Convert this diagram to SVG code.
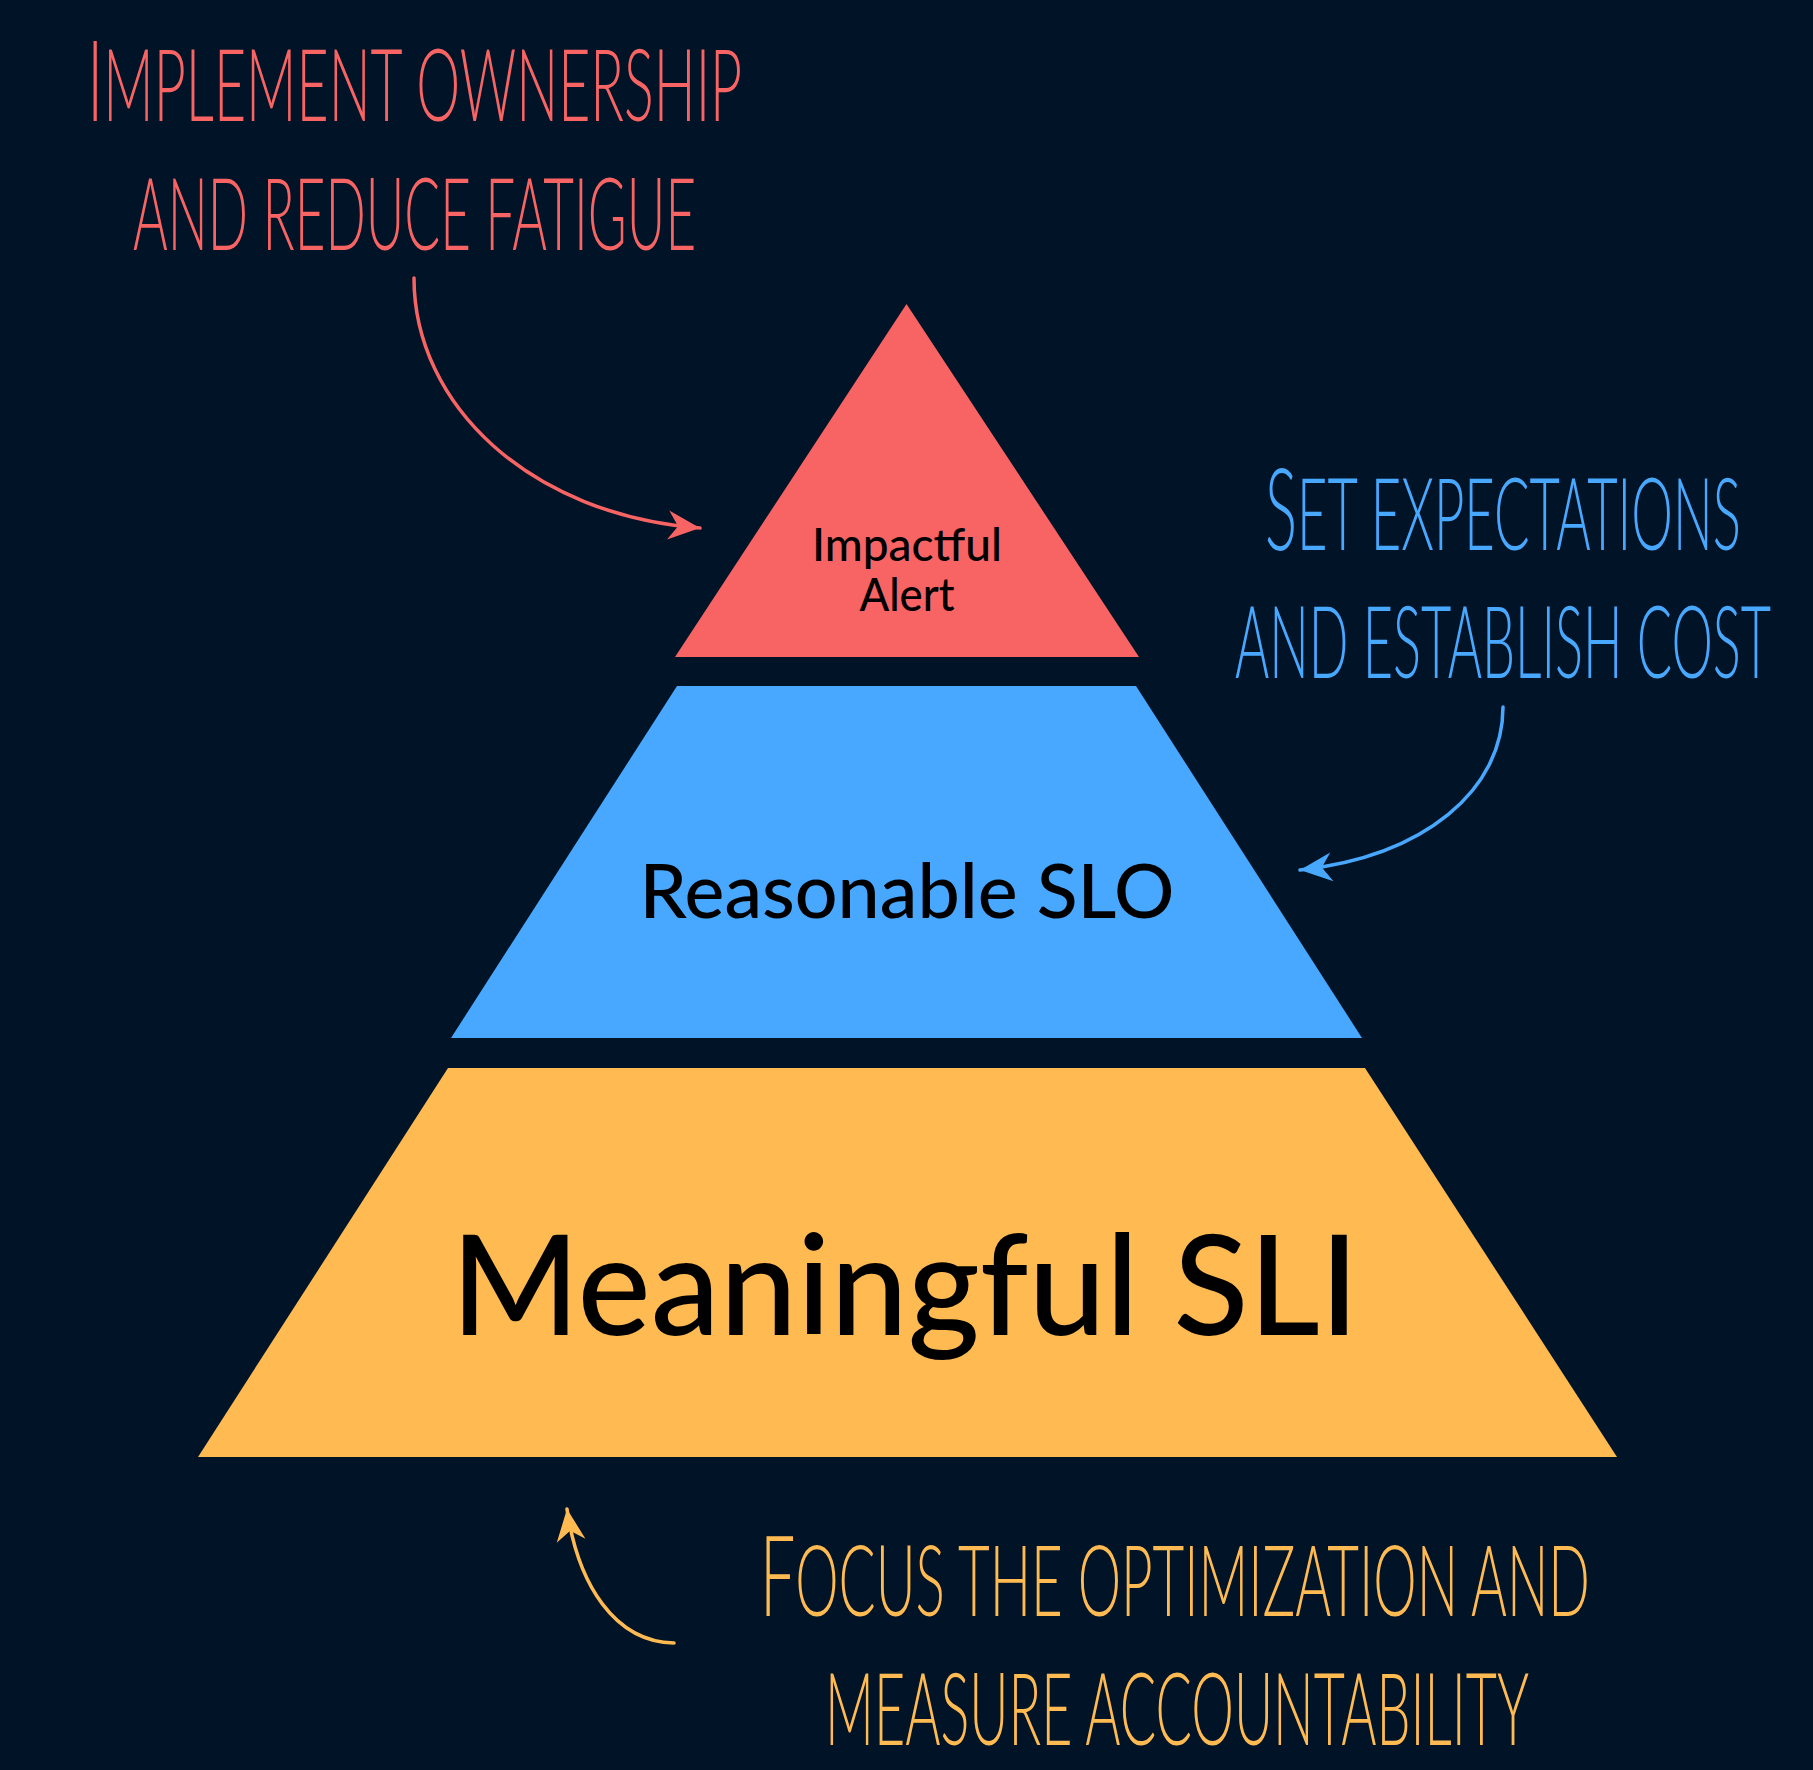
<svg xmlns="http://www.w3.org/2000/svg" width="1813" height="1770" viewBox="0 0 1813 1770">
<style>
.lvl{font-family:Lato,"Liberation Sans","DejaVu Sans",sans-serif;font-weight:500;fill:#000;}
.hand{font-family:Lato,"Liberation Sans","DejaVu Sans",sans-serif;font-weight:300;text-transform:uppercase;}
.red{fill:#F86464;}
.blue{fill:#48A8FF;}
.yellow{fill:#FFBA52;}
.conn{fill:none;stroke-width:3.5;stroke-linecap:round;}
</style>
<defs>
<marker id="ahR" markerUnits="userSpaceOnUse" markerWidth="40" markerHeight="32" refX="36" refY="16" orient="auto" overflow="visible"><path d="M36,16 L4,1 L14,16 L4,30 Z" fill="#F86464"/></marker>
<marker id="ahB" markerUnits="userSpaceOnUse" markerWidth="40" markerHeight="32" refX="36" refY="16" orient="auto" overflow="visible"><path d="M36,16 L4,1 L14,16 L4,30 Z" fill="#48A8FF"/></marker>
<marker id="ahY" markerUnits="userSpaceOnUse" markerWidth="40" markerHeight="32" refX="36" refY="16" orient="auto" overflow="visible"><path d="M36,16 L4,1 L14,16 L4,30 Z" fill="#FFBA52"/></marker>
</defs>
<rect x="0" y="0" width="1813" height="1770" fill="#011427"/>

<g id="level-alert">
<polygon points="906.5,304 1139,657 675,657" fill="#F86464"/>
<text class="lvl" x="907" y="561" font-size="46" text-anchor="middle" textLength="190" lengthAdjust="spacingAndGlyphs">Impactful</text>
<text class="lvl" x="907" y="611" font-size="46" text-anchor="middle" textLength="95" lengthAdjust="spacingAndGlyphs">Alert</text>
</g>

<g id="level-slo">
<polygon points="677,686 1136,686 1362,1038 451,1038" fill="#48A8FF"/>
<text class="lvl" x="907" y="918" font-size="76" text-anchor="middle" textLength="535" lengthAdjust="spacingAndGlyphs">Reasonable SLO</text>
</g>

<g id="level-sli">
<polygon points="448,1068 1365,1068 1617,1457 198,1457" fill="#FFBA52"/>
<text class="lvl" x="905" y="1335" font-size="139" text-anchor="middle" textLength="908" lengthAdjust="spacingAndGlyphs">Meaningful SLI</text>
</g>

<g id="note-red" class="hand red">
<text transform="translate(87,121) scale(0.52,1)" x="0" y="0" font-size="100" textLength="1260" lengthAdjust="spacingAndGlyphs"><tspan font-size="113">I</tspan>mplement ownership</text>
<text transform="translate(133,250) scale(0.52,1)" x="0" y="0" font-size="100" textLength="1083" lengthAdjust="spacingAndGlyphs">and reduce fatigue</text>
</g>

<g id="note-blue" class="hand blue">
<text transform="translate(1265,550) scale(0.52,1)" x="0" y="0" font-size="101" textLength="915" lengthAdjust="spacingAndGlyphs"><tspan font-size="115">S</tspan>et expectations</text>
<text transform="translate(1235,678) scale(0.52,1)" x="0" y="0" font-size="100" textLength="1031" lengthAdjust="spacingAndGlyphs">and establish cost</text>
</g>

<g id="note-yellow" class="hand yellow">
<text transform="translate(760,1616) scale(0.52,1)" x="0" y="0" font-size="99" textLength="1596" lengthAdjust="spacingAndGlyphs"><tspan font-size="113">F</tspan>ocus the optimization and</text>
<text transform="translate(825,1745) scale(0.52,1)" x="0" y="0" font-size="100" textLength="1354" lengthAdjust="spacingAndGlyphs">measure accountability</text>
</g>

<g id="connectors">
<path class="conn" stroke="#F86464" d="M414,278 C414,405 530,515 700,528" marker-end="url(#ahR)"/>
<path class="conn" stroke="#48A8FF" d="M1503,707 C1503,790 1425,856 1300,870" marker-end="url(#ahB)"/>
<path class="conn" stroke="#FFBA52" d="M674,1643 C615,1642 578,1585 567,1509" marker-end="url(#ahY)"/>
</g>
</svg>
